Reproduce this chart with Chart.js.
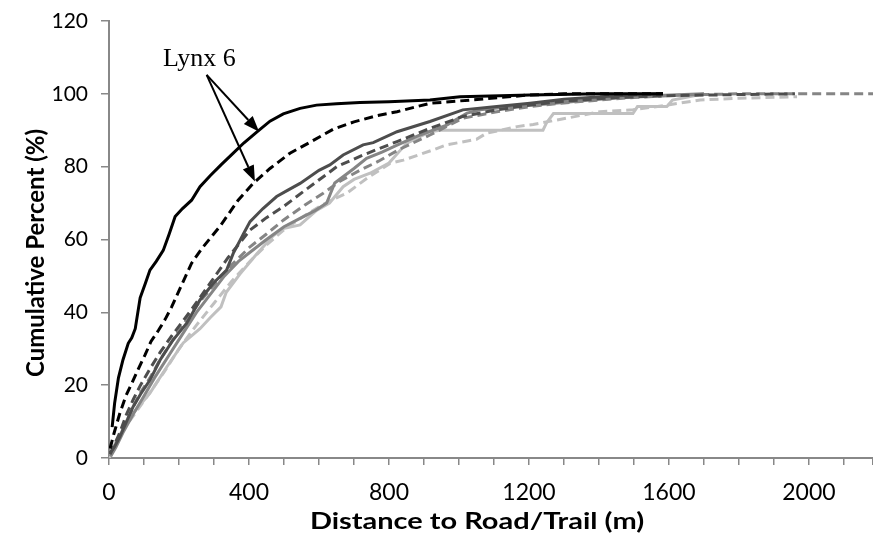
<!DOCTYPE html>
<html>
<head>
<meta charset="utf-8">
<script src="https://cdn.jsdelivr.net/npm/chart.js@4/dist/chart.umd.min.js"></script>
<style>
  html, body { margin: 0; padding: 0; background: #ffffff; }
  #wrap { width: 873px; height: 546px; }
</style>
</head>
<body>
<div id="wrap"><canvas id="c" width="873" height="546"></canvas></div>
<script>
// ---------------- DATA (distance in m, cumulative percent) ----------------
const xTickStep = 100;
const xLabelEvery = 400;
const yTickStep = 20;
const xTitle = 'Distance to Road/Trail (m)';
const yTitle = 'Cumulative Percent (%)';

const lynx6UsedX = [9, 16, 27, 40, 55, 65, 75, 89, 104, 117, 135, 155, 172, 189, 210, 236, 260, 289, 320, 355, 385, 422, 460, 498, 546, 593, 650, 717, 800, 917, 1003, 1203, 1400, 1583];
const lynx6UsedY = [8.5, 15, 22, 27, 31.5, 33, 35.5, 44, 48, 51.6, 54, 57, 61.5, 66.3, 68.5, 70.8, 74.5, 77.5, 80.5, 83.7, 86.5, 89.5, 92.5, 94.5, 96, 96.9, 97.3, 97.6, 97.8, 98.3, 99.2, 99.7, 100, 100];

const lynx6AvailX = [3, 15, 31, 48, 65, 84, 103, 120, 141, 160, 179, 205, 236, 265, 293, 317, 369, 412, 460, 517, 580, 641, 700, 765, 823, 917, 1060, 1203, 1300, 1583];
const lynx6AvailY = [2.6, 7, 12.3, 17, 20.5, 24.5, 28.3, 32, 35, 38, 41.5, 47, 53.5, 57.5, 60.8, 63.6, 70.8, 75.4, 79.5, 83.7, 87, 90.3, 92.3, 94, 95.1, 97.4, 98.5, 99.7, 100, 100];

const darkUsedX = [3, 15, 31, 50, 69, 90, 117, 146, 183, 222, 260, 298, 336, 355, 384, 403, 440, 479, 510, 546, 600, 631, 669, 726, 755, 823, 917, 1011, 1108, 1203, 1300, 1450, 1583];
const darkUsedY = [1.4, 3, 5.8, 10, 14.1, 17.5, 21.4, 26.9, 32.4, 37, 43.4, 48, 51.6, 56.2, 61.5, 64.9, 68.5, 71.8, 73.5, 75.4, 79, 80.5, 83.2, 86, 86.6, 89.6, 92.4, 95.6, 96.5, 97.4, 98.5, 99.5, 100];

const darkAvailX = [3, 15, 31, 50, 69, 90, 117, 146, 179, 230, 289, 340, 403, 450, 498, 560, 651, 726, 823, 917, 1011, 1108, 1203, 1300, 1450, 1600, 1800, 1960];
const darkAvailY = [1, 3.5, 7, 12, 16, 20, 24.5, 29, 33.5, 40, 48, 55, 62.6, 66, 69, 73.5, 80, 83.2, 86.9, 90.5, 93.8, 95.6, 96.9, 98, 99, 99.5, 99.8, 100];

const midUsedX = [5, 20, 40, 69, 100, 130, 170, 210, 250, 290, 330, 370, 403, 450, 500, 550, 590, 622, 645, 700, 736, 780, 823, 889, 965, 1023, 1060, 1150, 1250, 1400, 1550, 1700];
const midUsedY = [0.5, 3, 7, 12, 17, 22, 28, 34, 40, 45, 50, 54, 56.5, 60, 63.5, 66, 68, 70, 75.5, 79.5, 82.3, 84, 85.9, 88.7, 91.4, 94.7, 95.6, 96.5, 97.2, 98.5, 99.5, 100];

const midAvailX = [3, 15, 31, 50, 69, 90, 117, 146, 183, 222, 260, 300, 350, 403, 450, 498, 560, 612, 660, 717, 770, 831, 917, 1011, 1108, 1203, 1300, 1400, 1500, 1600, 1700, 1800, 2200];
const midAvailY = [0.5, 2.5, 6, 10, 14, 18, 22, 27, 32.5, 38, 43, 47.5, 53, 58, 61.5, 65.3, 69.5, 72.7, 76, 79, 81.5, 84.8, 88.7, 93.3, 95.1, 96.5, 97.5, 98.3, 99, 99.5, 99.8, 100, 100];

const lightUsedX = [0, 22, 69, 117, 165, 212, 260, 289, 320, 335, 374, 422, 469, 498, 546, 593, 630, 669, 700, 746, 800, 850, 917, 946, 1240, 1250, 1270, 1497, 1510, 1594, 1610, 1700];
const lightUsedY = [0, 5, 12.3, 17.8, 25, 31.6, 35.5, 38.5, 41.5, 45.5, 50.5, 56, 61, 63, 64, 68, 70, 74.5, 76.5, 78.2, 81, 86.4, 89.6, 90, 90, 92, 94.6, 94.6, 96.5, 96.5, 98.3, 100];

const lightAvailX = [0, 20, 50, 80, 117, 160, 200, 250, 300, 350, 403, 450, 498, 550, 600, 640, 679, 740, 803, 841, 926, 965, 1050, 1079, 1166, 1212, 1307, 1403, 1497, 1594, 1689, 1800, 1966];
const lightAvailY = [0, 4, 9, 13, 18, 24, 30, 36.5, 42.5, 48.5, 54, 58.5, 62.5, 66, 69, 71, 72.7, 77, 80.9, 81.8, 84.6, 86, 87.5, 89.2, 91, 91.6, 93.3, 95.1, 95.6, 96.9, 98.3, 98.8, 99.2];

// annotation anchor points (data units)
const labelText = 'Lynx 6';
const labelPos = {x: 154, y: 107.6};
const arrowStart = {x: 279, y: 105.2};
const arrowTips = [{x: 429, y: 89.6}, {x: 417, y: 75.9}];

// ---------------- CHART ----------------
function pts(xs, ys) { return xs.map((x, i) => ({x: x, y: ys[i]})); }

const BLACK = '#000000', DARK = '#4d4d4d', MID = '#858585', LIGHT = '#c0c0c0';
const DASH = [9, 5];
function ds(label, xs, ys, color, dashed) {
  return {
    label: label, data: pts(xs, ys), borderColor: color, backgroundColor: color,
    borderWidth: 3, borderDash: dashed ? DASH : [], pointRadius: 0, tension: 0, fill: false
  };
}

const FAMILY = 'Lato, "Liberation Sans", Arial, sans-serif';

const annotate = {
  id: 'annotate',
  afterDatasetsDraw(chart) {
    const {ctx, scales: {x, y}} = chart;
    ctx.save();
    ctx.fillStyle = '#000';
    ctx.font = '26px "Liberation Serif", "Times New Roman", serif';
    ctx.textAlign = 'left';
    ctx.textBaseline = 'alphabetic';
    ctx.fillText(labelText, x.getPixelForValue(labelPos.x), y.getPixelForValue(labelPos.y));
    const sx = x.getPixelForValue(arrowStart.x), sy = y.getPixelForValue(arrowStart.y);
    ctx.strokeStyle = '#000';
    ctx.lineWidth = 2;
    arrowTips.forEach(t => {
      const tx = x.getPixelForValue(t.x), ty = y.getPixelForValue(t.y);
      const ang = Math.atan2(ty - sy, tx - sx);
      const L = 16, W = 6;
      const bx = tx - L * Math.cos(ang), by = ty - L * Math.sin(ang);
      ctx.beginPath(); ctx.moveTo(sx, sy); ctx.lineTo(bx, by); ctx.stroke();
      ctx.beginPath();
      ctx.moveTo(tx, ty);
      ctx.lineTo(bx + W * Math.sin(ang), by - W * Math.cos(ang));
      ctx.lineTo(bx - W * Math.sin(ang), by + W * Math.cos(ang));
      ctx.closePath(); ctx.fill();
    });

    // axis titles (horizontally widened like the reference)
    ctx.font = 'bold 23px ' + FAMILY;
    ctx.textAlign = 'center';
    ctx.textBaseline = 'middle';
    ctx.save();
    ctx.translate(477, 522);
    ctx.scale(1.26, 1);
    ctx.fillText(xTitle, 0, 0);
    ctx.restore();
    ctx.save();
    ctx.translate(36, 253);
    ctx.rotate(-Math.PI / 2);
    ctx.font = 'bold 24px ' + FAMILY;
    ctx.fillText(yTitle, 0, 0);
    ctx.restore();
    ctx.restore();
  }
};

const axisGray = '#888888';

new Chart(document.getElementById('c'), {
  type: 'line',
  data: {
    datasets: [
      ds('Lynx 6 used', lynx6UsedX, lynx6UsedY, BLACK, false),
      ds('Lynx 6 available', lynx6AvailX, lynx6AvailY, BLACK, true),
      ds('Dark used', darkUsedX, darkUsedY, DARK, false),
      ds('Dark available', darkAvailX, darkAvailY, DARK, true),
      ds('Mid used', midUsedX, midUsedY, MID, false),
      ds('Mid available', midAvailX, midAvailY, MID, true),
      ds('Light used', lightUsedX, lightUsedY, LIGHT, false),
      ds('Light available', lightAvailX, lightAvailY, LIGHT, true)
    ]
  },
  options: {
    responsive: false,
    animation: false,
    devicePixelRatio: 1,
    layout: {padding: {top: 21, right: 0, bottom: 0, left: 0}},
    plugins: {legend: {display: false}, tooltip: {enabled: false}},
    scales: {
      x: {
        type: 'linear', min: 0, max: 2183, bounds: 'data',
        afterFit(s) { s.height = 88; s.paddingRight = 0; s.paddingLeft = 0; },
        grid: {drawOnChartArea: false, drawTicks: true, tickLength: 7, color: axisGray, lineWidth: 1.5},
        border: {display: true, color: axisGray, width: 2},
        ticks: {
          stepSize: xTickStep, includeBounds: false, autoSkip: false, maxRotation: 0,
          color: '#000', font: {family: FAMILY, size: 23}, padding: 14,
          callback: v => (v % xLabelEvery === 0 ? String(v) : '')
        },
        title: {display: false}
      },
      y: {
        min: 0, max: 120,
        afterFit(s) { s.width = 109; s.paddingTop = 0; s.paddingBottom = 0; },
        grid: {drawOnChartArea: false, drawTicks: true, tickLength: 8, color: axisGray, lineWidth: 1.5},
        border: {display: true, color: axisGray, width: 2},
        ticks: {stepSize: yTickStep, color: '#000', font: {family: FAMILY, size: 21}, padding: 13},
        title: {display: false}
      }
    }
  },
  plugins: [annotate]
});
</script>
</body>
</html>
